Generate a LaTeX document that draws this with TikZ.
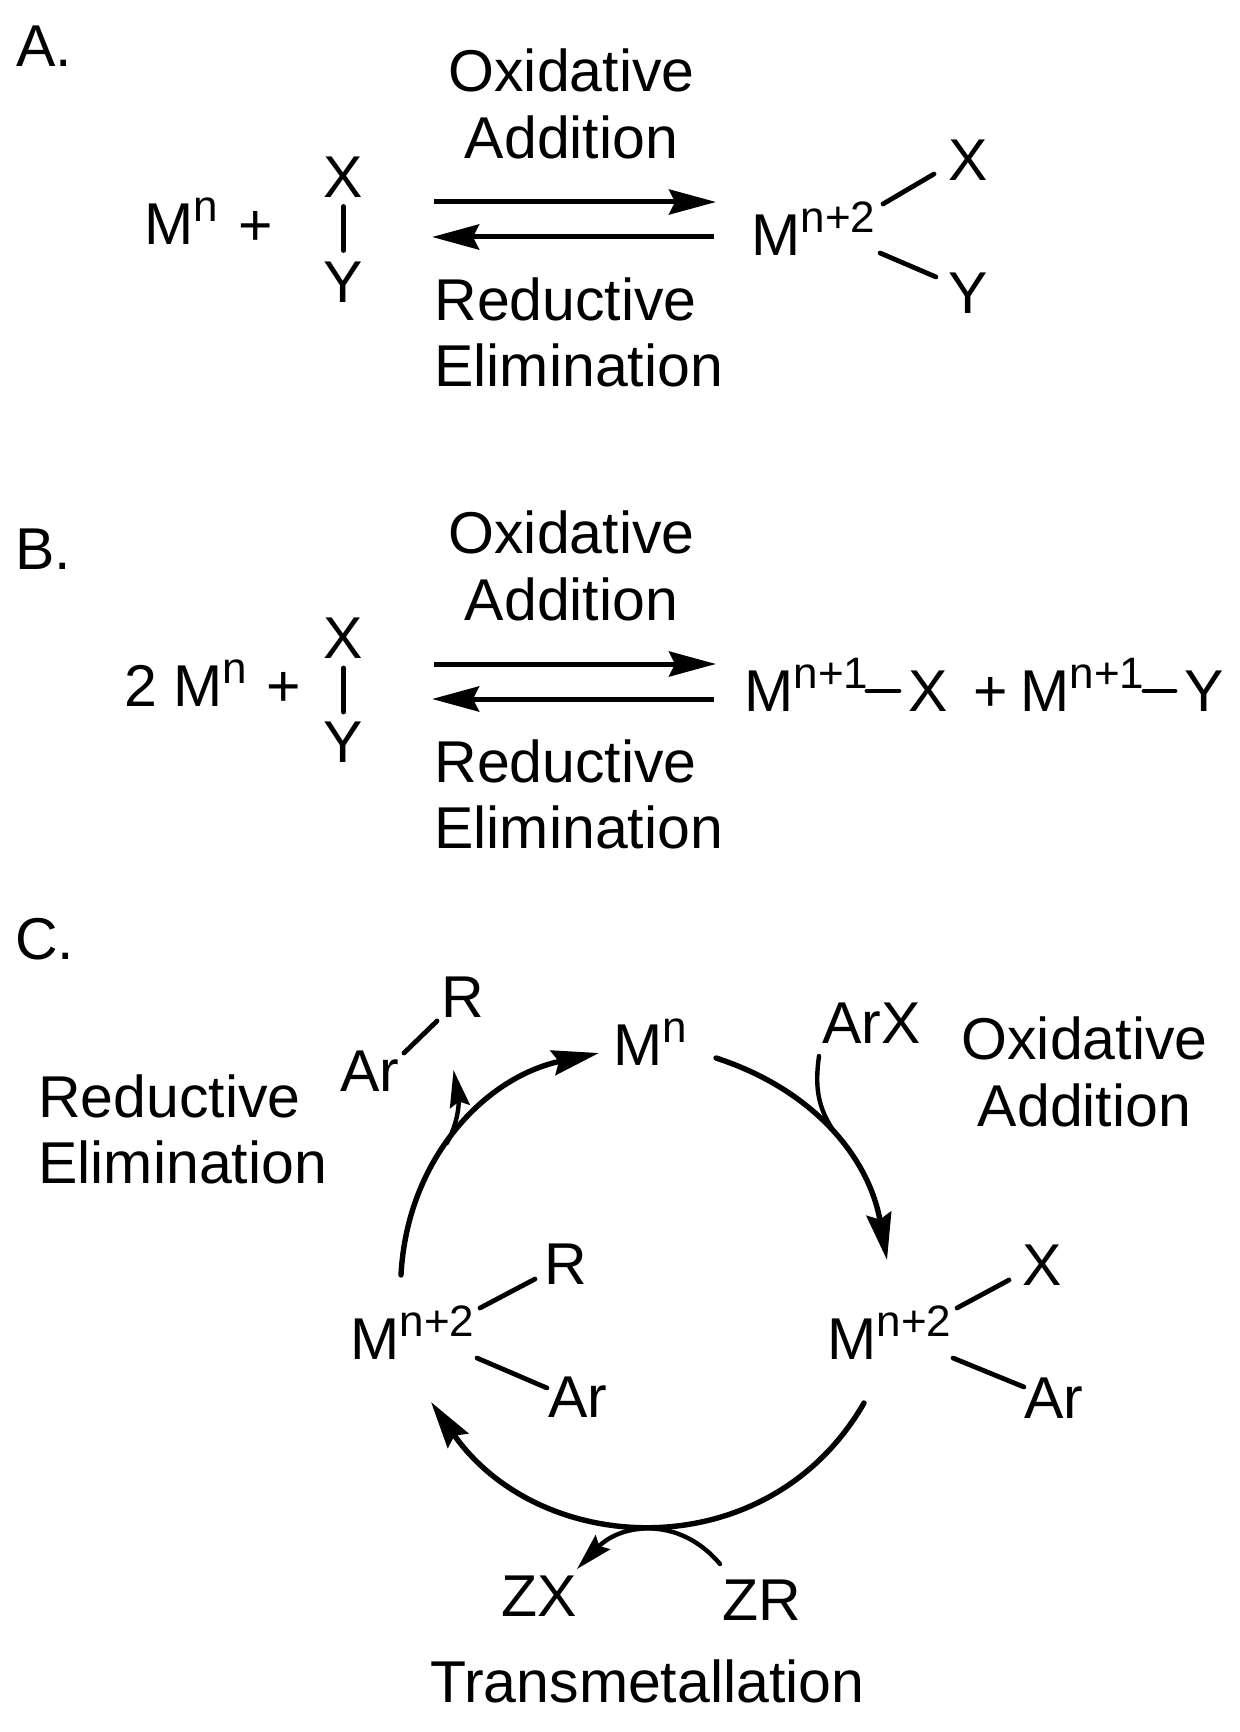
\documentclass[tikz,border=0pt]{standalone}
\usepackage{fontspec}
\setmainfont{Liberation Sans}
\usetikzlibrary{arrows.meta,positioning}
\newcommand{\supr}[1]{\raisebox{11.5pt}{\fontsize{22}{24}\selectfont #1}}

\begin{document}
\begin{tikzpicture}[
  x=0.5pt, y=0.5pt, >={Stealth[length=23.5pt, width=12.5pt, inset=3pt]},
  chem/.style={inner sep=0pt, anchor=base west, font=\fontsize{29.5}{33}\selectfont},
  mid/.style={chem, anchor=base},
  rxn/.style={->, line width=2.5pt},
  cyc/.style={->, line width=2.7pt, line cap=round},
  side/.style={line width=2.2pt, line cap=round},
  bond/.style={line width=2.4pt, line cap=round}]

  \useasboundingbox (0,0) rectangle (1240,-1732);

  % --- A: two-electron step ---
  \node[chem] (tagA) at (16,-67) {A.};
  \node[mid] (oxA) at (571.5,-91.5) {Oxidative};
  \node[mid, below=33.5pt of oxA.base, anchor=base] (addA) {Addition};
  \node[chem] (redA) at (434,-320.5) {Reductive};
  \node[chem, below=33pt of redA.base west, anchor=base west] (elimA) {Elimination};
  \node[chem] (mnA) at (144,-245) {M\supr{n}};
  \node[chem] (plusA) at (238,-246) {+};
  \node[mid] (xA) at (343.5,-198) {X};
  \node[mid] (yA) at (343.5,-303) {Y};
  \node[chem] (mtA) at (751,-256) {M\supr{n+2}};
  \node[mid] (xtA) at (968,-181) {X};
  \node[mid] (ytA) at (968,-314) {Y};

  \draw[bond] ([shift={(0,-8.5)}]xA.base) -- ([shift={(0,52.5)}]yA.base);
  \draw[bond] ([shift={(132,52)}]mtA.base west) -- ([shift={(-34,7)}]xtA.base);
  \draw[bond] ([shift={(129,3)}]mtA.base west) -- ([shift={(-32,37)}]ytA.base);
  \draw[rxn] ([shift={(90.5,-4)}]xA.base) -- ([shift={(-35,54)}]mtA.base west);
  \draw[rxn] ([shift={(-37,19)}]mtA.base west) -- ([shift={(88.5,-39)}]xA.base);

  % --- B: one-electron steps ---
  \node[chem] (tagB) at (15,-569) {B.};
  \node[mid] (oxB) at (571.5,-553) {Oxidative};
  \node[mid, below=33.5pt of oxB.base, anchor=base] (addB) {Addition};
  \node[chem] (redB) at (434,-782) {Reductive};
  \node[chem, below=33pt of redB.base west, anchor=base west] (elimB) {Elimination};
  \node[chem] (mnB) at (124,-706) {2 M\supr{n}};
  \node[chem] (plusB) at (266,-706) {+};
  \node[mid] (xB) at (343.5,-658) {X};
  \node[mid] (yB) at (343.5,-762) {Y};
  \node[chem] (mpB) at (744,-711) {M\supr{n+1}};
  \node[chem] (xpB) at (908,-711) {X};
  \node[chem] (plusC) at (973,-711) {+};
  \node[chem] (mqB) at (1020,-711) {M\supr{n+1}};
  \node[chem] (yqB) at (1184,-711) {Y};

  \draw[bond] ([shift={(0,-10)}]xB.base) -- ([shift={(0,50)}]yB.base);
  \draw[bond] ([shift={(123,20)}]mpB.base west) -- ([shift={(-9,20)}]xpB.base west);
  \draw[bond] ([shift={(124,20)}]mqB.base west) -- ([shift={(-9,20)}]yqB.base west);
  \draw[rxn] ([shift={(90.5,-6)}]xB.base) -- ([shift={(-28,47)}]mpB.base west);
  \draw[rxn] ([shift={(-30,12)}]mpB.base west) -- ([shift={(88.5,-41)}]xB.base);

  % --- C: catalytic cycle ---
  \node[chem] (tagC) at (15,-959) {C.};
  \node[chem] (redC) at (38,-1117) {Reductive};
  \node[chem, below=33pt of redC.base west, anchor=base west] (elimC) {Elimination};
  \node[mid] (oxC) at (1084.5,-1059) {Oxidative};
  \node[mid, below=33.5pt of oxC.base, anchor=base] (addC) {Addition};
  \node[chem] (trans) at (430,-1702) {Transmetallation};

  \node[chem] (mn) at (613,-1065) {M\supr{n}};
  \node[chem] (mtR) at (827,-1359) {M\supr{n+2}};
  \node[chem] (mtL) at (350,-1359) {M\supr{n+2}};
  \node[chem] (arx) at (822,-1043) {ArX};
  \node[chem] (arP) at (340,-1091) {Ar};
  \node[chem] (rP) at (441.5,-1017) {R};
  \node[mid] (xR) at (1042,-1285) {X};
  \node[chem] (arR) at (1024,-1418) {Ar};
  \node[chem] (rL) at (544.5,-1284) {R};
  \node[chem] (arL) at (548,-1417) {Ar};
  \node[chem] (zx) at (501,-1616) {ZX};
  \node[chem] (zr) at (722,-1620) {ZR};
  \coordinate (joinOx) at (835,-1133);
  \coordinate (joinRe) at (447,-1143);

  \draw[bond] ([shift={(64,38)}]arP.base west) -- ([shift={(-4.5,-4)}]rP.base west);
  \draw[bond] ([shift={(130,51)}]mtL.base west) -- ([shift={(-9.5,5)}]rL.base west);
  \draw[bond] ([shift={(127,1)}]mtL.base west) -- ([shift={(-1,29)}]arL.base west);
  \draw[bond] ([shift={(130,51)}]mtR.base west) -- ([shift={(-33,5)}]xR.base);
  \draw[bond] ([shift={(126,1)}]mtR.base west) -- ([shift={(0,31)}]arR.base west);

  \draw[cyc] ([shift={(51,84)}]mtL.base west) to[out=87, in=192] ([shift={(-14,12)}]mn.base west);
  \draw[cyc] ([shift={(103,7)}]mn.base west) to[out=-18, in=100] ([shift={(60,99)}]mtR.base west);
  \draw[cyc] ([shift={(37,-44)}]mtR.base west) to[out=240, in=-55, looseness=1.13] ([shift={(81,-43)}]mtL.base west);

  % --- substrates joining and leaving the cycle ---
  \draw[side] ([shift={(-3,-13)}]arx.base west) to[out=-98, in=125] (joinOx);
  \draw[side, -{Stealth[length=18.5pt, width=10pt, inset=2.5pt]}] (joinRe)
    to[out=62, in=-80] ([shift={(113.5,21)}]arP.base west);
  \draw[side, -{Stealth[length=18.5pt, width=10pt, inset=2.5pt]}] ([shift={(-2,56)}]zr.base west)
    to[out=130, in=46, looseness=1.13] ([shift={(76,47)}]zx.base west);
\end{tikzpicture}
\end{document}
